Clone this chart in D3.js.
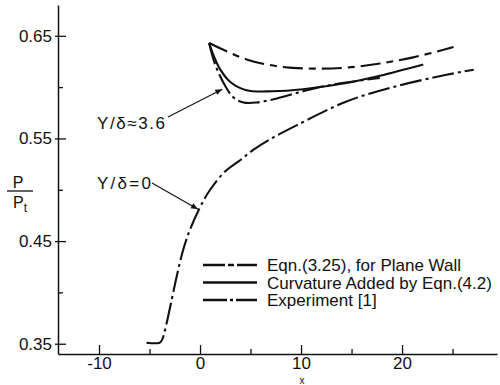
<!DOCTYPE html>
<html><head><meta charset="utf-8">
<script src="https://cdn.jsdelivr.net/npm/d3@7"></script>
<style>
html,body{margin:0;padding:0;background:#fff;}
svg{display:block;}
text{font-family:"Liberation Sans",Arial,sans-serif;fill:#111;}
</style></head>
<body>
<svg id="c" width="500" height="385"></svg>
<script>
// ---- data ----
const xMajorTicks = [-10, 0, 10, 20];
const xMinorTicks = [-5, 5, 15, 25];
const yMajorTicks = [0.35, 0.45, 0.55, 0.65];
const yMinorTicks = [0.40, 0.50, 0.60];

// Experiment [1], Y/delta = 0
const expWallX = [-5.3, -4.0, -3.75, -3.45, -2.8, -2.3, -1.65, -1.0, 0.0, 1.0, 2.5, 4.0, 5.3, 6.9, 9.6, 14.5, 19.5, 24.4, 27.1];
const expWallY = [0.351, 0.351, 0.354, 0.364, 0.393, 0.416, 0.442, 0.461, 0.483, 0.500, 0.518, 0.529, 0.539, 0.549, 0.563, 0.586, 0.601, 0.612, 0.617];

// Eqn (3.25), plane wall, Y/delta ~ 3.6
const planeX = [0.9, 4.6, 7.9, 11.2, 14.5, 17.8, 21.1, 25.1];
const planeY = [0.643, 0.627, 0.620, 0.618, 0.619, 0.623, 0.629, 0.639];

// Curvature added by Eqn (4.2), Y/delta ~ 3.6
const curvX = [0.9, 1.3, 1.95, 3.0, 4.6, 7.2, 10.2, 14.5, 17.8, 22.1];
const curvY = [0.643, 0.632, 0.618, 0.605, 0.597, 0.596, 0.598, 0.604, 0.611, 0.622];

// Experiment [1], Y/delta ~ 3.6
const exp36X = [0.9, 1.5, 2.5, 3.3, 4.3, 5.6, 7.6, 10.2, 12.9, 17.8];
const exp36Y = [0.643, 0.622, 0.601, 0.590, 0.585, 0.585, 0.589, 0.596, 0.602, 0.609];

const legendLabels = ["Eqn.(3.25), for Plane Wall", "Curvature Added by Eqn.(4.2)", "Experiment [1]"];

// ---- drawing ----
const svg = d3.select("#c");
const x = d3.scaleLinear().domain([-14.06, 29.4]).range([58, 497]);
const y = d3.scaleLinear().domain([0.34, 0.68]).range([354, 5]);

const DASHDOT = "22,4,3,4";
const PLANE = "20,6,7,6";

const line = d3.line().x(d => x(d[0])).y(d => y(d[1])).curve(d3.curveCatmullRom.alpha(0.5));
const zip = (a, b) => a.map((v, i) => [v, b[i]]);

const g = svg.append("g");

// axes
const yAx = g.append("g").attr("transform", `translate(${x.range()[0]},0)`)
  .call(d3.axisLeft(y).tickValues(yMajorTicks).tickSize(-8).tickSizeOuter(0).tickPadding(6).tickFormat(d3.format(".2f")));
yAx.selectAll(".tick line").attr("x1", -3);
const yAxMin = g.append("g").attr("transform", `translate(${x.range()[0]},0)`)
  .call(d3.axisLeft(y).tickValues(yMinorTicks).tickSize(-5).tickSizeOuter(0).tickFormat(""));
yAxMin.select(".domain").remove();

const xAx = g.append("g").attr("transform", `translate(0,${y.range()[0]})`)
  .call(d3.axisBottom(x).tickValues(xMajorTicks).tickSize(-9).tickSizeOuter(0).tickPadding(4).tickFormat(d => String(d)));
const xAxMin = g.append("g").attr("transform", `translate(0,${y.range()[0]})`)
  .call(d3.axisBottom(x).tickValues(xMinorTicks).tickSize(-5).tickSizeOuter(0).tickFormat(""));
xAxMin.select(".domain").remove();

[yAx, xAx].forEach(a => {
  a.select(".domain").attr("stroke", "#111").attr("stroke-width", 1.5);
  a.selectAll("text").attr("font-size", 17).attr("fill", "#111").attr("font-family", "Liberation Sans, Arial, sans-serif");
});
[yAx, xAx, yAxMin, xAxMin].forEach(a => a.selectAll(".tick line").attr("stroke", "#111").attr("stroke-width", 1.3));
xAx.selectAll("text").attr("dy", "0.65em");

// curves
const curves = [
  {d: zip(expWallX, expWallY), dash: DASHDOT},
  {d: zip(planeX, planeY), dash: PLANE},
  {d: zip(curvX, curvY), dash: null},
  {d: zip(exp36X, exp36Y), dash: DASHDOT}
];
g.selectAll("path.curve").data(curves).enter().append("path")
  .attr("class", "curve")
  .attr("d", c => line(c.d))
  .attr("fill", "none").attr("stroke", "#111").attr("stroke-width", 2.1)
  .attr("stroke-linecap", "butt")
  .attr("stroke-dasharray", c => c.dash);

// y axis label P / Pt
const yl = g.append("g");
yl.append("text").attr("x", 18).attr("y", 188).attr("text-anchor", "middle").attr("font-size", 16).text("P");
yl.append("line").attr("x1", 7).attr("x2", 33).attr("y1", 191).attr("y2", 191).attr("stroke", "#111").attr("stroke-width", 1.3);
const pt = yl.append("text").attr("x", 13).attr("y", 208).attr("font-size", 16).text("P");
pt.append("tspan").attr("font-size", 12).attr("dy", 4).text("t");

// x label
g.append("text").attr("x", 302).attr("y", 384).attr("text-anchor", "middle").attr("font-size", 10).text("x");

// annotations with arrows
svg.append("defs").append("marker").attr("id", "arr").attr("viewBox", "0 0 10 10")
  .attr("refX", 10).attr("refY", 5).attr("markerWidth", 9).attr("markerHeight", 7).attr("orient", "auto")
  .attr("markerUnits", "userSpaceOnUse")
  .append("path").attr("d", "M0,1 L10,5 L0,9 Z").attr("fill", "#111");

g.append("text").attr("x", 97).attr("y", 129).attr("font-size", 17).attr("textLength", 68).attr("lengthAdjust", "spacing").text("Y/δ≈3.6");
g.append("line").attr("x1", 168).attr("y1", 117).attr("x2", x(2.2)).attr("y2", y(0.598))
  .attr("stroke", "#111").attr("stroke-width", 1.1).attr("marker-end", "url(#arr)");

g.append("text").attr("x", 97).attr("y", 189).attr("font-size", 17).attr("textLength", 54).attr("lengthAdjust", "spacing").text("Y/δ=0");
g.append("line").attr("x1", 152).attr("y1", 183).attr("x2", x(-0.2)).attr("y2", y(0.481))
  .attr("stroke", "#111").attr("stroke-width", 1.1).attr("marker-end", "url(#arr)");

// legend
const lg = g.append("g");
const legDashL = ["22,3,6,3", null, "24,3,3,3"];
legendLabels.forEach((t, i) => {
  const yy = 265 + i * 17.5;
  lg.append("line").attr("x1", 203).attr("x2", 257).attr("y1", yy).attr("y2", yy)
    .attr("stroke", "#111").attr("stroke-width", 2.3).attr("stroke-dasharray", legDashL[i]);
  lg.append("text").attr("x", 267).attr("y", yy + 6).attr("font-size", 17).text(t);
});
</script>
</body></html>
